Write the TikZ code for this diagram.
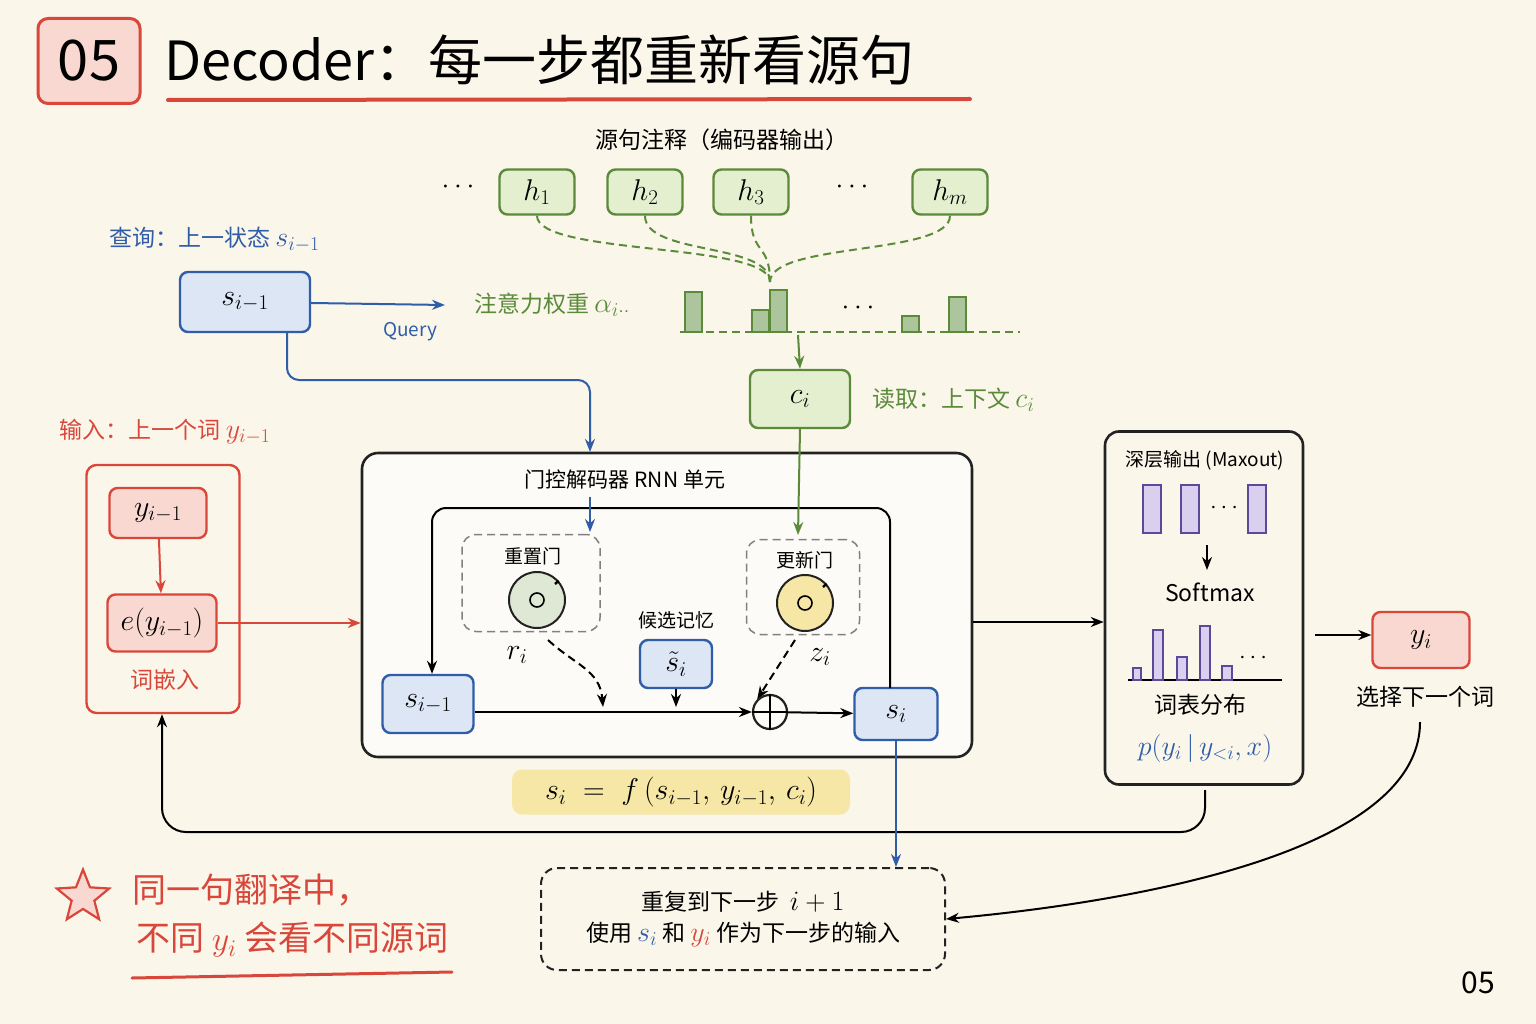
\RequirePackage{fix-cm}
\documentclass[tikz,border=0pt]{standalone}
\usepackage{fontspec}
\setmainfont{Noto Sans CJK SC}
\usetikzlibrary{positioning,arrows.meta,shapes.geometric}
\definecolor{bg}{HTML}{FBF6EA}
\definecolor{gline}{HTML}{5A8A3A}\definecolor{gfill}{HTML}{E3EFCF}
\definecolor{bline}{HTML}{2F5DA8}\definecolor{bfill}{HTML}{DCE6F5}
\definecolor{rline}{HTML}{D9473B}\definecolor{rfill}{HTML}{F8D8D0}
\definecolor{pline}{HTML}{5B4A9A}\definecolor{pfill}{HTML}{D8D0EE}
\definecolor{yfill}{HTML}{F6E7A6}\definecolor{ink}{HTML}{222222}
\newcommand\fsz[1]{\fontsize{#1}{#1}\selectfont}
\begin{document}
\begin{tikzpicture}[x=1pt,y=-1pt,>={Stealth[length=13pt,width=10pt]},line width=2pt,
  txt/.style={font=\fsz{23}},
  dsh/.style={dash pattern=on 8pt off 5pt},
  gnode/.style={draw=gline,fill=gfill,rounded corners=8pt,line width=2.4pt,minimum width=75pt,minimum height=45pt,font=\fsz{30}},
  bnode/.style={draw=bline,fill=bfill,rounded corners=8pt,line width=2.4pt,minimum height=55pt,font=\fsz{30}},
  rnode/.style={draw=rline,fill=rfill,rounded corners=8pt,line width=2.4pt,minimum height=52pt,font=\fsz{30}},
  gate/.style={draw=gray,dsh,rounded corners=14pt,line width=1.5pt},
  bar/.style={draw=gline,fill=gline!50,line width=1.5pt},
  pbar/.style={draw=pline,fill=pfill,line width=1.5pt}]
  \fill[bg] (0,0) rectangle (1536,1024);
  % title
  \node[draw=rline,fill=rfill,rounded corners=10pt,line width=3pt,minimum width=102pt,minimum height=85pt,font=\fsz{56}] (num) at (89,61) {05};
  \node[anchor=west,font=\fsz{54}] (title) at (160,60) {Decoder：每一步都重新看源句};
  \draw[rline,line width=4pt,line cap=round] (168,100) -- (970,99);
  % encoder annotations
  \node[txt] (src) at (722,140) {源句注释（编码器输出）};
  \node[gnode] (h1) at (537,192) {$h_1$};
  \node[gnode] (h2) at (645,192) {$h_2$};
  \node[gnode] (h3) at (751,192) {$h_3$};
  \node[gnode] (hm) at (950,192) {$h_m$};
  \node[font=\fsz{28}] (d1) at (458,187) {$\cdots$};
  \node[font=\fsz{28}] (d2) at (852,187) {$\cdots$};
  \coordinate (att) at (770,282);
  \foreach \h in {h1,h2,h3,hm}
    \draw[gline,dsh] (\h.south) .. controls +(0,40) and +(0,-40) .. (att);
  % query
  \node[txt,bline,anchor=west] (qlab) at (105,240) {查询：上一状态 \fsz{28}$s_{i-1}$};
  \node[bnode,minimum width=130pt,minimum height=60pt] (sprev) at (245,302) {$s_{i-1}$};
  \coordinate (qend) at (445,305);
  \draw[bline,->] (sprev) -- (qend);
  \node[bline,font=\fsz{19}] (qtxt) at (410,332) {Query};
  \node[txt,gline,anchor=west] (alab) at (470,305) {注意力权重 \fsz{28}$\alpha_{i\cdot\cdot}$};
  \draw[gline,dsh,line width=1.6pt] (680,332) -- (1020,332);
  \draw[bar] (685,292) rectangle (702,332);
  \draw[bar] (752,310) rectangle (769,332);
  \draw[bar] (770,290) rectangle (787,332);
  \draw[bar] (902,316) rectangle (919,332);
  \draw[bar] (949,297) rectangle (966,332);
  \node[font=\fsz{28}] (d3) at (858,308) {$\cdots$};
  \node[gnode,minimum width=100pt,minimum height=58pt] (ci) at (800,399) {$c_i$};
  \coordinate (wbot) at (798,335);
  \draw[gline,->] (wbot) -- (ci.north);
  \node[txt,gline,anchor=west] (clab) at (868,400) {读取：上下文 \fsz{28}$c_i$};
  % input
  \node[txt,rline] (ilab) at (165,432) {输入：上一个词 \fsz{28}$y_{i-1}$};
  \node[draw=rline,rounded corners=10pt,line width=2.4pt,minimum width=153pt,minimum height=248pt] (ibox) at (163,589) {};
  \node[rnode,minimum width=97pt,minimum height=50pt] (yprev) at (158,513) {$y_{i-1}$};
  \node[rnode,minimum width=109pt,minimum height=57pt] (emb) at (162,623) {$e(y_{i-1})$};
  \draw[rline,->] (yprev) -- (emb);
  \node[txt,rline] (elab) at (165,680) {词嵌入};
  % RNN unit
  \node[draw=ink,fill=white!60!bg,rounded corners=16pt,line width=2.6pt,minimum width=610pt,minimum height=304pt] (rnn) at (667,605) {};
  \draw[rline,->] (emb.east) -- (rnn.west|-emb.east);
  \node[font=\fsz{21}] (rlab) at (625,480) {门控解码器 RNN 单元};
  \draw[bline,->,rounded corners=12pt] (sprev.south-|287,0) -- (287,380) -- (590,380) -- (590,452);
  \node[gate,minimum width=138pt,minimum height=97pt] (rg) at (531,583) {};
  \node[gate,minimum width=113pt,minimum height=95pt] (ug) at (803,587) {};
  \node[font=\fsz{19}] (rgl) at (533,556) {重置门};
  \node[font=\fsz{19}] (ugl) at (805,560) {更新门};
  \node[circle,draw=ink,fill=gfill!60!gline!40,minimum size=56pt] (rc) at (537,600) {};
  \node[circle,draw=ink,fill=yfill,minimum size=56pt] (uc) at (805,603) {};
  \foreach \c in {rc,uc} {
    \draw[line width=1.6pt] (\c) circle (7) ;
    \draw[line width=2.4pt] (\c) -- ++(18,-16);}
  \node[font=\fsz{30}] (ri) at (517,655) {$r_i$};
  \node[font=\fsz{30}] (zi) at (820,657) {$z_i$};
  \node[font=\fsz{19}] (cand) at (676,620) {候选记忆};
  \node[bnode,minimum width=72pt,minimum height=48pt] (st) at (676,664) {$\tilde{s}_i$};
  \node[bnode,minimum width=91pt,minimum height=58pt] (s1) at (428,704) {$s_{i-1}$};
  \node[bnode,minimum width=83pt,minimum height=52pt] (si) at (896,714) {$s_i$};
  \node[circle,draw=ink,line width=2.2pt,minimum size=34pt,inner sep=0pt] (op) at (770,712) {};
  \draw[line width=2.2pt] (op.north) -- (op.south) (op.west) -- (op.east);
  \draw[->,rounded corners=14pt] (890,688) |- (432,508) -- (s1.north-|432,0);
  \draw[->] (s1.east|-op) -- (op);
  \coordinate (rdst) at (603,707);
  \coordinate (stdst) at (676,707);
  \draw[->] (st.south) -- (stdst);
  \draw[->,dsh] (548,640) .. controls (575,665) and (600,670) .. (rdst);
  \draw[->,dsh] (795,640) -- (op.north west);
  \draw[->] (op) -- (si);
  \draw[bline,->] (590,497) -- (590,532);
  \draw[gline,->] (ci.south) -- (798,535);
  \node[fill=yfill,rounded corners=10pt,minimum width=338pt,minimum height=45pt,font=\fsz{30}] (eq) at (681,792) {$s_i\;=\;f\,(s_{i-1},\,y_{i-1},\,c_i)$};
  % output side
  \node[draw=ink,rounded corners=14pt,line width=2.6pt,minimum width=198pt,minimum height=353pt] (mx) at (1204,608) {};
  \draw[->] (rnn.east|-622,622) -- (mx.west|-622,622);
  \node[font=\fsz{19}] (mxl) at (1205,460) {深层输出 (Maxout)};
  \draw[pbar] (1143,485) rectangle (1161,533);
  \draw[pbar] (1181,485) rectangle (1199,533);
  \draw[pbar] (1248,485) rectangle (1266,533);
  \node[font=\fsz{24}] (d4) at (1224,508) {$\cdots$};
  \coordinate (sa) at (1207,545);
  \coordinate (sb) at (1207,570);
  \draw[->,line width=1.6pt] (sa) -- (sb);
  \node[txt] (smx) at (1210,592) {Softmax};
  \draw[line width=1.8pt] (1128,680) -- (1282,680);
  \draw[pbar] (1133,668) rectangle (1141,680);
  \draw[pbar] (1153,630) rectangle (1163,680);
  \draw[pbar] (1177,657) rectangle (1187,680);
  \draw[pbar] (1200,626) rectangle (1210,680);
  \draw[pbar] (1222,666) rectangle (1232,680);
  \node[font=\fsz{24}] (d5) at (1253,658) {$\cdots$};
  \node[txt] (vd) at (1200,705) {词表分布};
  \node[bline,font=\fsz{28}] (pd) at (1205,748) {$p(y_i\,|\,y_{<i},x)$};
  \node[rnode,minimum width=97pt,minimum height=56pt] (yi) at (1421,640) {$y_i$};
  \draw[->] (1315,635) -- (yi.west|-1315,635);
  \node[txt] (yl) at (1425,697) {选择下一个词};
  % loops
  \draw[->,rounded corners=24pt] (1205,790) -- (1205,832) -- (162,832) -- (ibox.south-|162,0);
  \node[txt,draw=ink,dsh,rounded corners=16pt,line width=2pt,minimum width=404pt,minimum height=102pt,align=center] (rep) at (743,919) {重复到下一步 \ \fsz{28}$i+1$\\[8pt]\fsz{23}使用 {\fsz{28}\color{bline}$s_i$} 和 {\fsz{28}\color{rline}$y_i$} 作为下一步的输入};
  \draw[bline,->] (si.south) -- (rep.north-|si.south);
  \draw[->] (1420,722) .. controls (1420,860) and (1100,905) .. (rep.east);
  % note
  \node[star,star points=5,star point ratio=2.3,draw=rline,fill=rfill,line width=2.2pt,minimum size=55pt,inner sep=0pt] (st5) at (83,897) {};
  \node[rline,font=\fsz{34},anchor=west] (n1) at (128,890) {同一句翻译中，};
  \node[rline,font=\fsz{34},anchor=west] (n2) at (132,940) {不同 $y_i$ 会看不同源词};
  \draw[rline,line width=3pt,line cap=round] (132,978) -- (452,972);
  \node[font=\fsz{30}\itshape] (pg) at (1478,983) {05};
\end{tikzpicture}
\end{document}
